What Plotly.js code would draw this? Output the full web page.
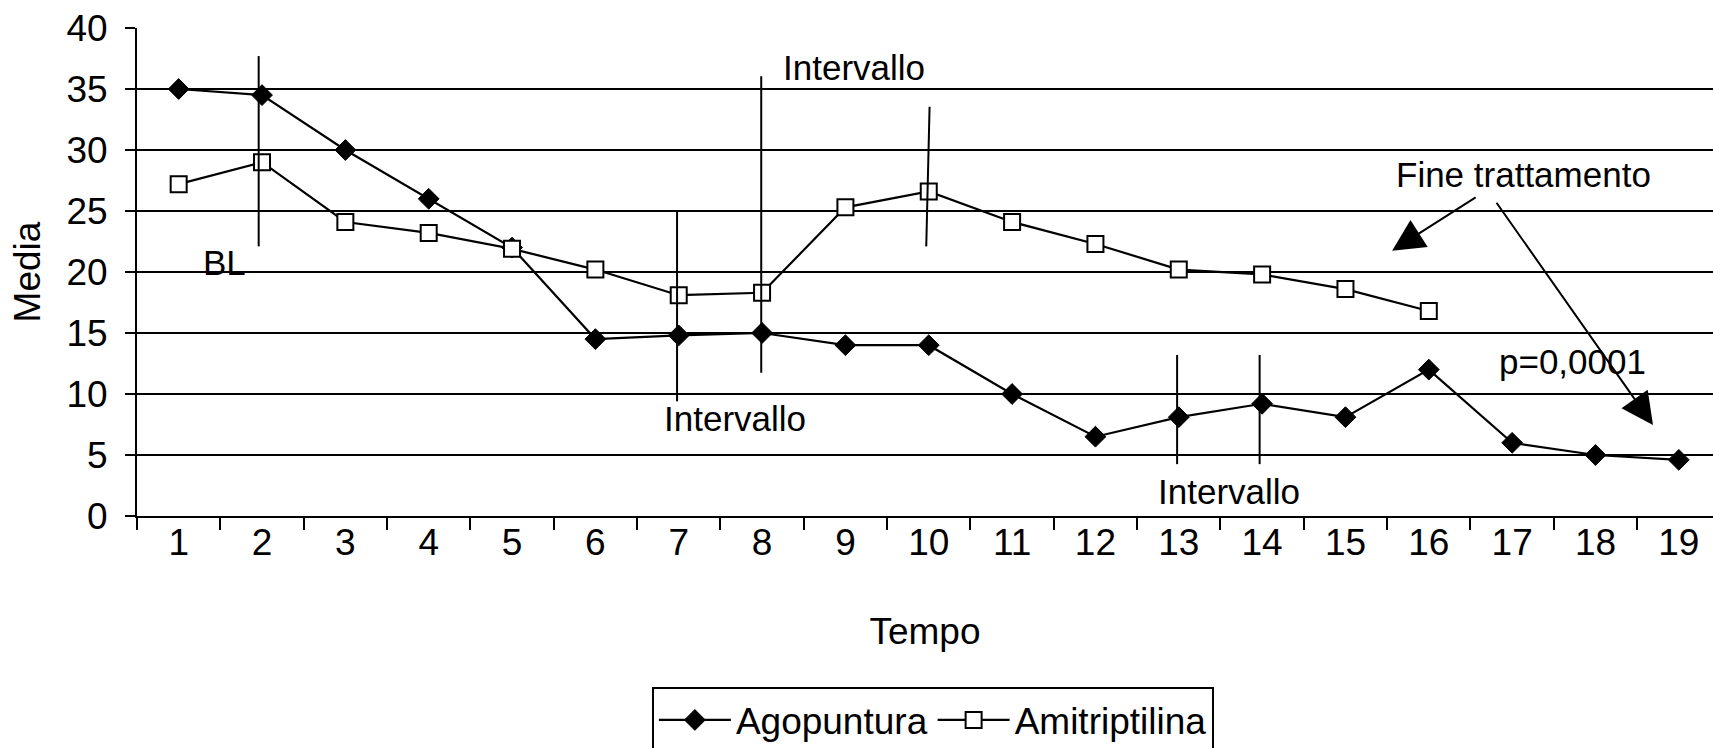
<!DOCTYPE html>
<html>
<head>
<meta charset="utf-8">
<script src="https://cdn.plot.ly/plotly-3.0.1.min.js"></script>
<style>
  html, body { margin: 0; padding: 0; background: #ffffff; }
  #chart { width: 1713px; height: 748px; }
</style>
</head>
<body>
<div id="chart"></div>
<script>
// ---- Data ----
const tempo = ['1','2','3','4','5','6','7','8','9','10','11','12','13','14','15','16','17','18','19'];
const agopuntura = [35, 34.5, 30, 26, 22, 14.5, 14.8, 15, 14, 14, 10, 6.5, 8.1, 9.2, 8.1, 12, 6, 5, 4.6];
const amitriptilina = [27.2, 29, 24.1, 23.2, 21.9, 20.2, 18.1, 18.3, 25.3, 26.6, 24.1, 22.3, 20.2, 19.8, 18.6, 16.8];
const yTicks = [0, 5, 10, 15, 20, 25, 30, 35, 40];

// vertical "interval" marker lines (category index, value range)
const intervalX0 = [0.96, 5.98, 6.99, 8.97, 11.98, 12.97];
const intervalX1 = [0.96, 5.98, 6.99, 9.01, 11.98, 12.97];
const intervalTop = [37.7, 25.05, 36.05, 33.55, 13.2, 13.2];
const intervalBottom = [22.1, 9.4, 11.75, 22.1, 4.25, 4.25];

const FONT = 'Liberation Sans, Arial, Helvetica, sans-serif';
const FS = 37;   // axis ticks, titles, legend
const FA = 35;   // in-plot annotations

const traces = [
  {
    x: tempo, y: agopuntura, name: 'Agopuntura', type: 'scatter', mode: 'lines+markers',
    line: { color: '#000000', width: 2.2 },
    marker: { symbol: 'diamond', size: 16, color: '#000000', line: { color: '#000000', width: 1 } }
  },
  {
    x: tempo.slice(0, amitriptilina.length), y: amitriptilina, name: 'Amitriptilina', type: 'scatter', mode: 'lines+markers',
    line: { color: '#000000', width: 2.2 },
    marker: { symbol: 'square', size: 16, color: '#ffffff', line: { color: '#000000', width: 2 } }
  }
];

const shapes = intervalX0.map((x0, i) => ({
  type: 'line', xref: 'x', yref: 'y',
  x0: x0, x1: intervalX1[i], y0: intervalBottom[i], y1: intervalTop[i],
  line: { color: '#000000', width: 2 }
}));

const txt = (text, x, y) => ({
  text: text, x: x, y: y, xref: 'x', yref: 'y', showarrow: false,
  font: { family: FONT, size: FA, color: '#000000' }, xanchor: 'center', yanchor: 'middle'
});

const annotations = [
  txt('BL', 0.55, 20.8),
  txt('Intervallo', 8.1, 36.8),
  txt('Intervallo', 6.68, 8.0),
  txt('Intervallo', 12.6, 2.0),
  txt('Fine trattamento', 16.14, 28.0),
  txt('p=0,0001', 16.73, 12.7),
  {
    text: '', x: 14.56, y: 21.75, ax: 15.58, ay: 26.2, xref: 'x', yref: 'y', axref: 'x', ayref: 'y',
    showarrow: true, arrowhead: 2, arrowsize: 3.2, arrowwidth: 2, arrowcolor: '#000000', standoff: 0, startstandoff: 0
  },
  {
    text: '', x: 17.69, y: 7.45, ax: 15.8, ay: 25.8, xref: 'x', yref: 'y', axref: 'x', ayref: 'y',
    showarrow: true, arrowhead: 2, arrowsize: 3.2, arrowwidth: 2, arrowcolor: '#000000', standoff: 0, startstandoff: 0
  }
];

const layout = {
  width: 1713, height: 748,
  margin: { l: 137, r: 0, t: 28, b: 232, pad: 0, autoexpand: false },
  paper_bgcolor: '#ffffff', plot_bgcolor: '#ffffff',
  font: { family: FONT, size: FS, color: '#000000' },
  showlegend: true,
  legend: {
    orientation: 'h', xref: 'paper', x: 0.505, xanchor: 'center',
    yref: 'container', y: 0.081, yanchor: 'top',
    bordercolor: '#000000', borderwidth: 2, bgcolor: '#ffffff',
    itemwidth: 72,
    font: { family: FONT, size: FS, color: '#000000' }
  },
  xaxis: {
    type: 'category', range: [-0.5, 18.41], fixedrange: true,
    showgrid: false, zeroline: false,
    showline: true, linecolor: '#000000', linewidth: 2,
    ticks: 'outside', tickson: 'boundaries', ticklen: 12, tickwidth: 2, tickcolor: '#000000',
    ticklabelstandoff: -7,
    tickfont: { family: FONT, size: FS, color: '#000000' },
    title: { text: 'Tempo', font: { family: FONT, size: FS, color: '#000000' }, standoff: 56 }
  },
  yaxis: {
    range: [0, 40], tickvals: yTicks, fixedrange: true,
    showgrid: true, gridcolor: '#000000', gridwidth: 2, zeroline: false,
    showline: true, linecolor: '#000000', linewidth: 2,
    ticks: 'outside', ticklen: 10, tickwidth: 2, tickcolor: '#000000',
    ticklabelstandoff: 10,
    tickfont: { family: FONT, size: FS, color: '#000000' },
    title: { text: 'Media', font: { family: FONT, size: FS, color: '#000000' }, standoff: 14 }
  },
  shapes: shapes,
  annotations: annotations
};

Plotly.newPlot('chart', traces, layout, { displayModeBar: false, staticPlot: true });
</script>
</body>
</html>
